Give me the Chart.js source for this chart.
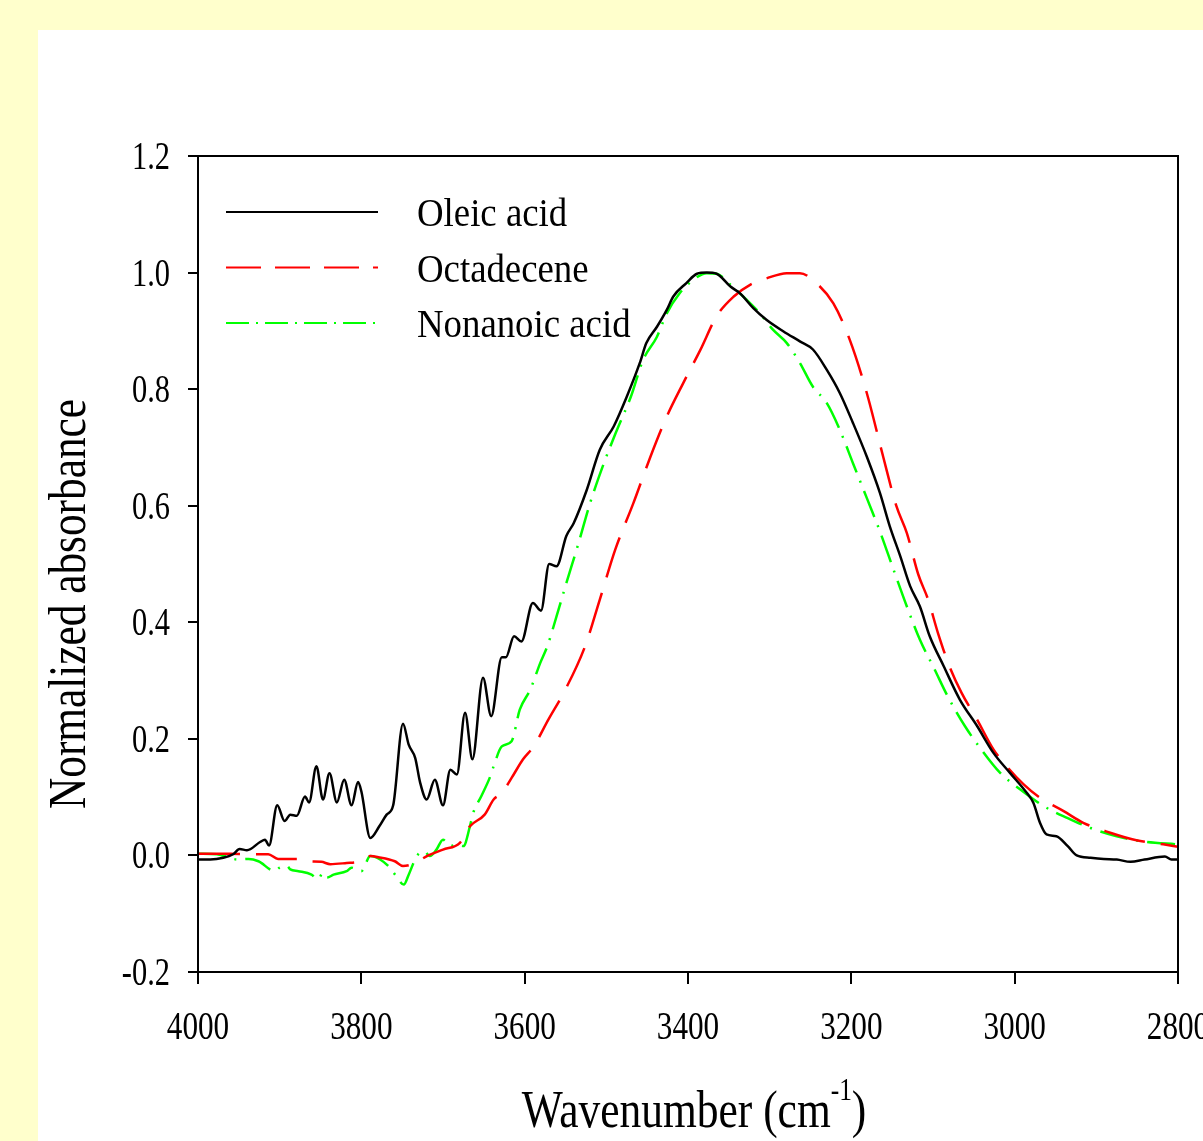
<!DOCTYPE html>
<html>
<head>
<meta charset="utf-8">
<script src="https://cdn.jsdelivr.net/npm/chart.js"></script>
<style>
  html, body { margin: 0; padding: 0; background: #ffffcc; }
  #wrap { width: 1203px; height: 1141px; }
</style>
</head>
<body>
<div id="wrap"><canvas id="chart" width="1203" height="1141"></canvas></div>
<script>
// tick labels
const xTicks = [4000, 3800, 3600, 3400, 3200, 3000, 2800];
const yTicks = [-0.2, 0.0, 0.2, 0.4, 0.6, 0.8, 1.0, 1.2];

const seriesNames = ['Oleic acid', 'Octadecene', 'Nonanoic acid'];

// Oleic acid
const oleicWn = [4000, 3985, 3969, 3957, 3949, 3940, 3924, 3918, 3913, 3903, 3894, 3887, 3879, 3869, 3864,
  3855, 3847, 3839, 3830, 3821, 3812, 3804, 3800, 3789, 3778, 3769, 3761, 3749, 3742, 3734, 3728, 3720,
  3710, 3700, 3691, 3683, 3673, 3664, 3651, 3641, 3628, 3623, 3613, 3604, 3590, 3580, 3570, 3561, 3549,
  3540, 3524, 3508, 3491, 3475, 3459, 3451, 3438, 3426, 3418, 3402, 3389, 3377, 3365, 3348, 3336, 3320,
  3304, 3283, 3263, 3247, 3230, 3214, 3198, 3181, 3165, 3153, 3140, 3128, 3116, 3104, 3087, 3067, 3046,
  3026, 3006, 2985, 2977, 2969, 2961, 2949, 2935, 2924, 2907, 2891, 2875, 2858, 2841, 2816, 2808, 2800];
const oleicAbs = [-0.007, -0.007, -0.004, 0.002, 0.011, 0.009, 0.023, 0.027, 0.017, 0.086, 0.059, 0.070, 0.068, 0.101, 0.091,
  0.153, 0.096, 0.141, 0.091, 0.130, 0.086, 0.126, 0.110, 0.030, 0.050, 0.070, 0.086, 0.226, 0.190, 0.167, 0.125, 0.096,
  0.130, 0.086, 0.147, 0.139, 0.245, 0.165, 0.305, 0.239, 0.340, 0.340, 0.376, 0.367, 0.433, 0.420, 0.500, 0.496, 0.548,
  0.570, 0.627, 0.696, 0.736, 0.787, 0.845, 0.879, 0.907, 0.936, 0.959, 0.982, 0.998, 1.000, 0.998, 0.976, 0.964, 0.939,
  0.919, 0.899, 0.882, 0.868, 0.833, 0.793, 0.742, 0.684, 0.622, 0.565, 0.513, 0.462, 0.427, 0.376, 0.325, 0.267, 0.222,
  0.176, 0.142, 0.107, 0.090, 0.056, 0.036, 0.033, 0.016, 0.000, -0.004, -0.006, -0.007, -0.011, -0.007, -0.002, -0.007, -0.007];

// Octadecene
const octaWn = [4000, 3961, 3938, 3914, 3902, 3879, 3867, 3849, 3838, 3818, 3804, 3789, 3779, 3759, 3749, 3736,
  3718, 3700, 3679, 3667, 3649, 3638, 3628, 3616, 3602, 3589, 3571, 3550, 3526, 3508, 3489, 3467, 3446,
  3426, 3406, 3385, 3365, 3344, 3324, 3304, 3279, 3263, 3243, 3222, 3202, 3181, 3161, 3145, 3132, 3118,
  3106, 3094, 3080, 3065, 3046, 3026, 3008, 2989, 2969, 2940, 2916, 2883, 2851, 2818, 2800];
const octaAbs = [0.003, 0.003, 0.002, 0.002, -0.006, -0.006, -0.010, -0.011, -0.015, -0.013, -0.011, -0.001, -0.003, -0.010, -0.018, -0.014,
  0.000, 0.010, 0.022, 0.050, 0.070, 0.096, 0.107, 0.133, 0.165, 0.187, 0.233, 0.285, 0.359, 0.439, 0.525, 0.604, 0.684,
  0.753, 0.810, 0.867, 0.925, 0.959, 0.979, 0.990, 0.999, 0.999, 0.982, 0.947, 0.885, 0.793, 0.684, 0.600, 0.553, 0.482,
  0.439, 0.382, 0.325, 0.279, 0.233, 0.182, 0.150, 0.122, 0.099, 0.076, 0.056, 0.039, 0.026, 0.019, 0.015];

// Nonanoic acid
const nonaWn = [4000, 3977, 3951, 3938, 3926, 3906, 3900, 3891, 3887, 3877, 3861, 3853, 3847, 3842, 3834, 3818,
  3812, 3800, 3789, 3777, 3765, 3757, 3748, 3742, 3732, 3723, 3716, 3708, 3700, 3691, 3683, 3675, 3667,
  3663, 3653, 3642, 3638, 3628, 3616, 3606, 3593, 3581, 3572, 3561, 3549, 3534, 3520, 3503, 3487, 3470,
  3455, 3438, 3426, 3410, 3394, 3377, 3365, 3348, 3328, 3312, 3296, 3279, 3263, 3247, 3230, 3214, 3198,
  3181, 3165, 3149, 3132, 3116, 3098, 3082, 3061, 3041, 3018, 2993, 2965, 2935, 2907, 2875, 2843, 2800];
const nonaAbs = [0.003, 0.002, -0.007, -0.006, -0.010, -0.027, -0.021, -0.018, -0.024, -0.027, -0.033, -0.041, -0.030, -0.038, -0.033, -0.027,
  -0.021, -0.027, -0.001, -0.007, -0.021, -0.036, -0.050, -0.033, -0.001, 0.007, -0.001, 0.010, 0.027, 0.016, 0.019, 0.016, 0.050,
  0.073, 0.102, 0.136, 0.153, 0.187, 0.196, 0.250, 0.285, 0.330, 0.360, 0.410, 0.467, 0.536, 0.604, 0.673, 0.730, 0.787,
  0.850, 0.890, 0.930, 0.965, 0.987, 0.999, 0.998, 0.979, 0.953, 0.930, 0.902, 0.879, 0.845, 0.804, 0.776, 0.730, 0.673,
  0.613, 0.556, 0.493, 0.427, 0.370, 0.319, 0.273, 0.222, 0.182, 0.142, 0.113, 0.085, 0.064, 0.047, 0.033, 0.024, 0.019];

const FONT = '"Liberation Serif", "Times New Roman", serif';

function pairs(xs, ys) {
  return xs.map((x, i) => ({ x: x, y: ys[i] }));
}

// text in the figure is narrow, so squeeze it horizontally
function drawText(ctx, str, x, y, size, sx, align, baseline, rot) {
  ctx.save();
  ctx.translate(x, y);
  if (rot) ctx.rotate(rot);
  ctx.scale(sx, 1);
  ctx.font = size + 'px ' + FONT;
  ctx.fillStyle = '#000';
  ctx.textAlign = align;
  ctx.textBaseline = baseline || 'alphabetic';
  ctx.fillText(str, 0, 0);
  ctx.restore();
}

const background = {
  id: 'background',
  beforeDraw(chart) {
    const ctx = chart.ctx;
    ctx.save();
    ctx.fillStyle = '#ffffcc';
    ctx.fillRect(0, 0, chart.width, chart.height);
    ctx.fillStyle = '#ffffff';
    ctx.fillRect(38, 30, chart.width - 38, chart.height - 30);
    ctx.restore();
  }
};

const legendDash = [[], [35, 14], [23, 7, 2, 7]];

const decorations = {
  id: 'decorations',
  afterDraw(chart) {
    const ctx = chart.ctx;
    const area = chart.chartArea;
    const xs = chart.scales.x;
    const ys = chart.scales.y;

    // frame
    ctx.save();
    ctx.strokeStyle = '#000';
    ctx.lineWidth = 2;
    ctx.strokeRect(area.left, area.top, area.right - area.left, area.bottom - area.top);
    ctx.restore();

    // tick labels
    xs.ticks.forEach(t => {
      drawText(ctx, String(t.value), xs.getPixelForValue(t.value), area.bottom + 67, 39, 0.8, 'center');
    });
    ys.ticks.forEach(t => {
      drawText(ctx, t.value.toFixed(1), area.left - 28, ys.getPixelForValue(t.value) + 13, 39, 0.78, 'right');
    });

    // axis titles
    drawText(ctx, 'Normalized absorbance', 85, 604, 53, 0.817, 'center', 'alphabetic', -Math.PI / 2);

    ctx.save();
    ctx.font = '53px ' + FONT;
    const w1 = ctx.measureText('Wavenumber (cm').width * 0.82;
    const w3 = ctx.measureText(')').width * 0.82;
    ctx.font = '31px ' + FONT;
    const w2 = ctx.measureText('-1').width * 0.82;
    ctx.restore();
    const tx = 694 - (w1 + w2 + w3) / 2;
    drawText(ctx, 'Wavenumber (cm', tx, 1127, 53, 0.82, 'left');
    drawText(ctx, '-1', tx + w1, 1100, 31, 0.82, 'left');
    drawText(ctx, ')', tx + w1 + w2, 1127, 53, 0.82, 'left');

    // legend
    chart.data.datasets.forEach((ds, i) => {
      const ly = 212 + i * 55.5;
      ctx.save();
      ctx.strokeStyle = ds.borderColor;
      ctx.lineWidth = 2;
      ctx.setLineDash(legendDash[i]);
      ctx.beginPath();
      ctx.moveTo(area.left + 28, ly);
      ctx.lineTo(area.left + 180, ly);
      ctx.stroke();
      ctx.restore();
      drawText(ctx, ds.label, 417, ly + 14, 40, 0.92, 'left');
    });
  }
};

const ctx = document.getElementById('chart');
new Chart(ctx, {
  type: 'line',
  data: {
    datasets: [
      {
        label: seriesNames[0],
        data: pairs(oleicWn, oleicAbs),
        borderColor: '#000000',
        borderWidth: 2.5
      },
      {
        label: seriesNames[1],
        data: pairs(octaWn, octaAbs),
        borderColor: '#ff0000',
        borderWidth: 2.5,
        borderDash: [42, 16]
      },
      {
        label: seriesNames[2],
        data: pairs(nonaWn, nonaAbs),
        borderColor: '#00ff00',
        borderWidth: 2.5,
        borderDash: [28, 9, 2, 9]
      }
    ]
  },
  options: {
    responsive: false,
    animation: false,
    devicePixelRatio: 1,
    layout: { padding: { left: 0, top: 156, right: 25, bottom: 0 } },
    elements: {
      point: { radius: 0 },
      line: { cubicInterpolationMode: 'monotone', fill: false }
    },
    plugins: {
      legend: { display: false },
      tooltip: { enabled: false }
    },
    scales: {
      x: {
        type: 'linear',
        reverse: true,
        min: 2800,
        max: 4000,
        afterBuildTicks: s => { s.ticks = xTicks.map(v => ({ value: v })); },
        afterFit: s => { s.height = 169; },
        ticks: { display: false },
        grid: { drawOnChartArea: false, drawTicks: true, tickLength: 12, color: '#000', lineWidth: 2 },
        border: { display: true, color: '#000', width: 2 }
      },
      y: {
        type: 'linear',
        min: -0.2,
        max: 1.2,
        afterBuildTicks: s => { s.ticks = yTicks.map(v => ({ value: v })); },
        afterFit: s => { s.width = 198; },
        ticks: { display: false },
        grid: { drawOnChartArea: false, drawTicks: true, tickLength: 10, color: '#000', lineWidth: 2 },
        border: { display: true, color: '#000', width: 2 }
      }
    }
  },
  plugins: [background, decorations]
});
</script>
</body>
</html>
